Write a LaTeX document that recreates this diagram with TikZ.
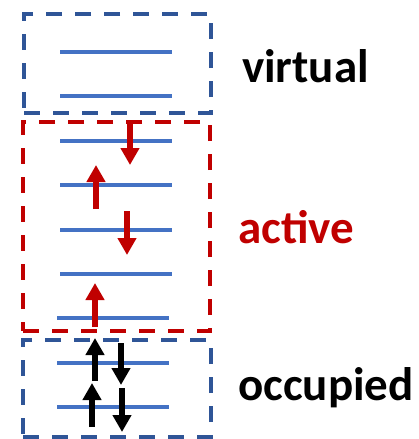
\documentclass[tikz,border=0pt]{standalone}
\usepackage{fontspec}
\setmainfont{Carlito}
\usepackage{tikz}
\usetikzlibrary{arrows.meta}
\definecolor{boxblue}{HTML}{2F5597}
\definecolor{lvblue}{HTML}{4472C4}
\definecolor{actred}{HTML}{C00000}
\tikzstyle{level} = [rectangle, fill=lvblue, minimum width=112pt, minimum height=4pt, inner sep=0pt]
\tikzstyle{space} = [rectangle, draw, line width=3.5pt, dash pattern=on 16pt off 13pt, inner sep=0pt]
\tikzstyle{spin} = [line width=6pt, -{Triangle[width=18pt,length=17pt]}]
\tikzstyle{tag} = [anchor=base west, inner sep=0pt, font=\fontsize{47}{50}\selectfont\bfseries]

\begin{document}
\begin{tikzpicture}[x=1pt, y=-1pt, node distance=44.4pt]
\useasboundingbox (0,0) rectangle (418,439);
% orbital levels
\node (v1) [level] at (116,52) {};
\node (v2) [level, below of=v1] {};
\node (a1) [level, below of=v2] {};
\node (a2) [level, below of=a1] {};
\node (a3) [level, below of=a2] {};
\node (a4) [level, below of=a3] {};
\node (a5) [level, below of=a4, xshift=-3pt] {};
\node (o1) [level, below of=a5] {};
\node (o2) [level, below of=o1] {};

% orbital spaces
\node (virt) [space, draw=boxblue, minimum width=187pt, minimum height=99pt] at (117.5,63.5) {};
\node (act) [space, draw=actred, minimum width=187pt, minimum height=209pt] at (116.5,226.5) {};
\node (occ) [space, draw=boxblue, minimum width=188pt, minimum height=97pt] at (117,388.5) {};

\node (lv) [tag] at (242,82) {virtual};
\node (la) [tag, text=actred] at (238,243) {active};
\node (lo) [tag] at (238,400) {occupied};

% electrons in the active space
\coordinate (r1a) at (130,123); \coordinate (r1b) at (130,165);
\coordinate (r2a) at (96,209);  \coordinate (r2b) at (96,165);
\coordinate (r3a) at (127,211); \coordinate (r3b) at (127,255);
\coordinate (r4a) at (95,327);  \coordinate (r4b) at (95,283);
\draw [spin, actred] (r1a) -- (r1b);
\draw [spin, actred] (r2a) -- (r2b);
\draw [spin, actred] (r3a) -- (r3b);
\draw [spin, actred] (r4a) -- (r4b);

% doubly occupied core
\coordinate (k1a) at (95,381);  \coordinate (k1b) at (95,338);
\coordinate (k2a) at (121,343); \coordinate (k2b) at (121,385);
\coordinate (k3a) at (92,427);  \coordinate (k3b) at (92,383);
\coordinate (k4a) at (122,388); \coordinate (k4b) at (122,432);
\draw [spin] (k1a) -- (k1b);
\draw [spin] (k2a) -- (k2b);
\draw [spin] (k3a) -- (k3b);
\draw [spin] (k4a) -- (k4b);
\end{tikzpicture}
\end{document}
